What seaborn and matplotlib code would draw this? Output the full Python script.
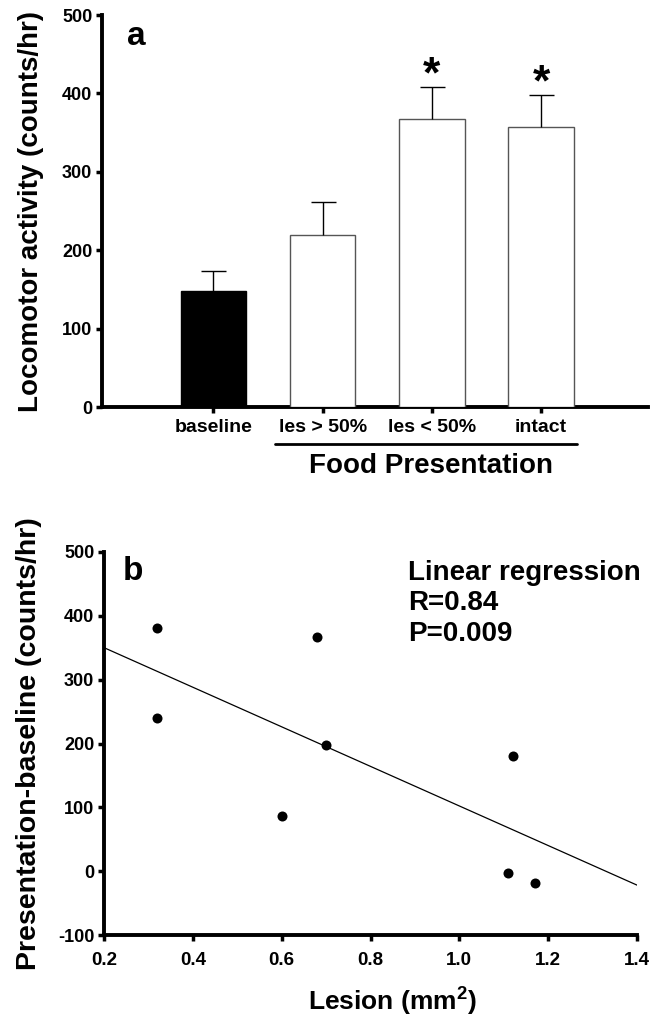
import numpy as np
import pandas as pd
import matplotlib
matplotlib.use("Agg")
import matplotlib.pyplot as plt
import matplotlib.transforms as mtransforms
import seaborn as sns

# ---------------- data ----------------
categories = ["baseline", "les > 50%", "les < 50%", "intact"]
activity_mean = [148, 220, 367, 357]
activity_sem = [26, 42, 41, 41]
significant = [False, False, True, True]
bar_colors = ["black", "white", "white", "white"]

lesion_mm2 = [0.32, 0.32, 0.68, 0.70, 0.60, 1.12, 1.11, 1.17]
pres_minus_base = [381, 240, 367, 198, 86, 181, -3, -19]

yticks_a = [0, 100, 200, 300, 400, 500]
yticks_b = [-100, 0, 100, 200, 300, 400, 500]
xticks_b = [0.2, 0.4, 0.6, 0.8, 1.0, 1.2, 1.4]
stats_lines = ["Linear regression", "R=0.84", "P=0.009"]

# ---------------- style ----------------
sns.set_theme(style="ticks")
plt.rcParams["font.family"] = ["Liberation Sans", "DejaVu Sans"]
plt.rcParams["font.weight"] = "bold"
plt.rcParams["axes.labelweight"] = "bold"
plt.rcParams["axes.unicode_minus"] = False
for key in ["text.color", "axes.labelcolor", "xtick.color", "ytick.color",
            "axes.edgecolor"]:
    plt.rcParams[key] = "black"
plt.rcParams["mathtext.fontset"] = "custom"
plt.rcParams["mathtext.rm"] = "Liberation Sans:bold"
plt.rcParams["mathtext.bf"] = "Liberation Sans:bold"

fig = plt.figure(figsize=(6.6, 10.29), dpi=100)
W, H = 660, 1029

def axes_rect(l, r, t, b):
    return [l / W, 1 - b / H, (r - l) / W, (b - t) / H]

# ================= panel a =================
ax1 = fig.add_axes(axes_rect(102, 648, 15, 407))
df_a = pd.DataFrame({"cond": categories, "activity": activity_mean})
sns.barplot(data=df_a, x="cond", y="activity", hue="cond",
            palette=dict(zip(categories, bar_colors)), order=categories,
            width=0.6, legend=False, ax=ax1, zorder=3)
for patch, c in zip(ax1.patches, bar_colors):
    patch.set_edgecolor("black" if c == "black" else "#555555")
    patch.set_linewidth(1.0)

xpos = np.arange(len(categories))
eb = ax1.errorbar(xpos, activity_mean,
                  yerr=[np.zeros(len(categories)), activity_sem],
                  fmt="none", ecolor="black", elinewidth=1.0,
                  capsize=9, capthick=1.0, zorder=4)
for cap in eb[1]:
    if np.allclose(cap.get_ydata(), activity_mean):
        cap.set_visible(False)

for x, m, e, s in zip(xpos, activity_mean, activity_sem, significant):
    if s:
        ax1.text(x, m + e, "*", ha="center", va="baseline",
                 fontsize=32, fontweight="bold")

ax1.set_xlim(-1.02, 3.98)
ax1.set_ylim(0, 500)
ax1.set_yticks(yticks_a)
ax1.set_xticks(xpos)
ax1.set_xticklabels(categories, fontsize=14, fontweight="bold")
ax1.tick_params(axis="y", labelsize=13, length=4, width=2.5, pad=3)
ax1.tick_params(axis="x", length=4, width=2.5, pad=5)
for lbl in ax1.get_yticklabels():
    lbl.set_fontweight("bold")
sns.despine(ax=ax1)
for sp in ["left", "bottom"]:
    ax1.spines[sp].set_linewidth(2.8)
    ax1.spines[sp].set_color("black")
ax1.set_xlabel("")
ax1.set_ylabel("Locomotor activity (counts/hr)", fontsize=20, fontweight="bold")
ax1.yaxis.label.set_va("center")
ax1.yaxis.set_label_coords(-0.13, 0.5)

# bracket line + group label
trans = mtransforms.blended_transform_factory(ax1.transData, ax1.transAxes)
ax1.plot([0.56, 3.33], [-0.095, -0.095], color="black", lw=2.0,
         transform=trans, clip_on=False)
ax1.text(1.99, -0.1676, "Food Presentation", transform=trans,
         ha="center", va="baseline", fontsize=20, fontweight="bold")
ax1.text(0.046, 0.923, "a", transform=ax1.transAxes, ha="left",
         va="baseline", fontsize=24, fontweight="bold")

# ================= panel b =================
ax2 = fig.add_axes(axes_rect(104, 637, 552, 935))
ax2.set_xlim(0.2, 1.4)
ax2.set_ylim(-100, 500)
df_b = pd.DataFrame({"lesion": lesion_mm2, "delta": pres_minus_base})
sns.regplot(data=df_b, x="lesion", y="delta", scatter=False, ci=None,
            truncate=False, color="black", line_kws={"lw": 0.9}, ax=ax2)
sns.scatterplot(data=df_b, x="lesion", y="delta", color="black", s=52,
                edgecolor="black", linewidth=0, ax=ax2, zorder=4)
ax2.set_xlim(0.2, 1.4)
ax2.set_ylim(-100, 500)
ax2.set_xticks(xticks_b)
ax2.set_xticklabels([f"{v:.1f}" for v in xticks_b])
ax2.set_yticks(yticks_b)
ax2.set_yticklabels([str(v) for v in yticks_b])
ax2.tick_params(axis="y", labelsize=13, length=4, width=2.5, pad=3)
ax2.tick_params(axis="x", labelsize=13.5, length=4, width=2.5, pad=8)
for lbl in ax2.get_xticklabels() + ax2.get_yticklabels():
    lbl.set_fontweight("bold")
sns.despine(ax=ax2)
for sp in ["left", "bottom"]:
    ax2.spines[sp].set_linewidth(2.8)
    ax2.spines[sp].set_color("black")
ax2.set_ylabel("Presentation-baseline (counts/hr)", fontsize=20.5,
               fontweight="bold")
ax2.yaxis.label.set_va("center")
ax2.yaxis.set_label_coords(-0.14, 0.5)
ax2.set_xlabel(r"Lesion (mm$^{\mathbf{2}}$)", fontsize=19, fontweight="bold")
ax2.xaxis.label.set_va("baseline")
ax2.xaxis.set_label_coords(0.542, -0.196)

ax2.text(0.036, 0.927, "b", transform=ax2.transAxes, ha="left",
         va="baseline", fontsize=24, fontweight="bold")
for txt, yy in zip(stats_lines, [0.927, 0.849, 0.768]):
    ax2.text(0.570, yy, txt, transform=ax2.transAxes, ha="left",
             va="baseline", fontsize=20, fontweight="bold")

fig.savefig("out.png", dpi=100, facecolor="white")
